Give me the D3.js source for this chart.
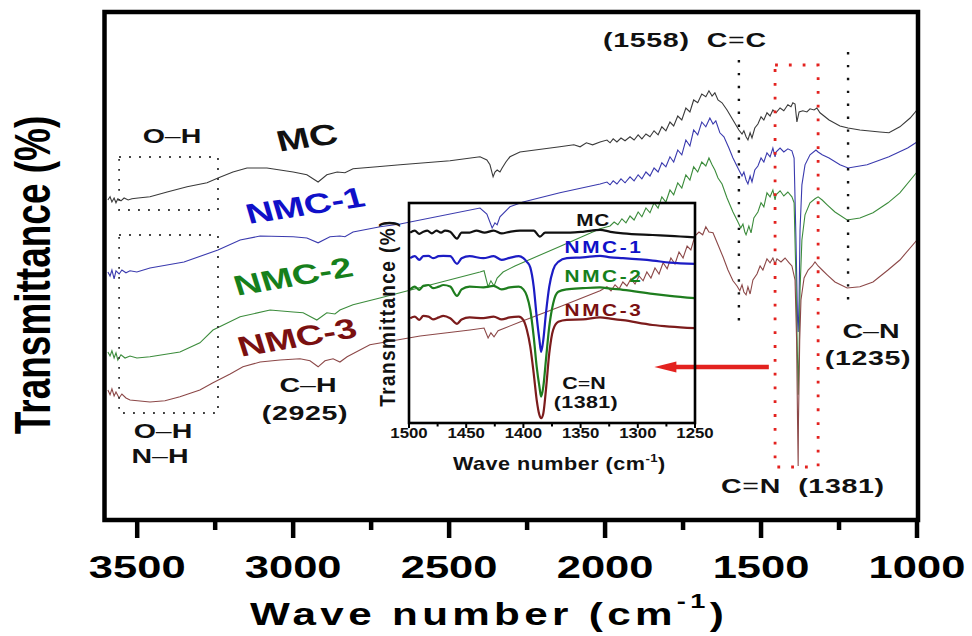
<!DOCTYPE html>
<html>
<head>
<meta charset="utf-8">
<script src="https://cdn.jsdelivr.net/npm/d3@7/dist/d3.min.js"></script>
<style>
    body { margin: 0; background: #fff; }
    text { font-family: "Liberation Sans", Arial, sans-serif; font-weight: bold; white-space: pre; }
</style>
</head>
<body>
<svg id="chart" width="972" height="636"></svg>
<script>
// FTIR spectra: [wave number (cm-1), transmittance (a.u., offset)]
var mcSpectrum = [
    [3594,80],[3587,80.8],[3581,79.5],[3574,80.5],[3568,79.3],[3562,80.3],[3552,79.8],[3542,80.5],[3529,80],[3517,80.3],[3497,80.5],
    [3459,80.8],[3404,82],[3340,83.3],[3276,84.3],[3241,85.5],[3193,87],[3148,88],[3084,88],[3000,87],[2956,86.3],[2920,84.5],
    [2892,86.3],[2859,87],[2834,86.8],[2808,87.8],[2731,88.3],[2657,88.8],[2497,89.8],[2401,90.8],[2379,90],[2369,88.8],[2359,85.8],
    [2353,87],[2346,87.5],[2337,87],[2330,88],[2318,89.5],[2305,90.8],[2273,92],[2145,93.3],[2100,93.8],[2080,93.3],[2060,94.3],
    [2040,93.8],[2016,94.5],[1994,95],[1984,94.3],[1974,95.3],[1962,94.5],[1949,95.5],[1936,94.8],[1920,95.8],[1907,95],[1894,96.3],
    [1882,95.3],[1869,96.5],[1856,95.8],[1843,97.3],[1830,96.3],[1818,98.3],[1805,97.3],[1792,99.5],[1780,98.5],[1767,101],[1754,100],
    [1741,103],[1728,102],[1716,105],[1703,104.3],[1690,106.5],[1677,105.8],[1667,107.3],[1657,106],[1648,106.8],[1638,105],[1625,104.3],
    [1609,102.5],[1590,100],[1571,97.5],[1561,96.5],[1555,97.3],[1548,95.8],[1542,95],[1535,96.8],[1529,95.5],[1520,98],[1510,99],
    [1500,100.8],[1491,100],[1481,101.8],[1471,101],[1462,102.5],[1452,101.8],[1439,103],[1427,102.3],[1414,103.8],[1404,103.3],
    [1398,104.3],[1391,104],[1385,99.5],[1378,102],[1366,102.3],[1353,102],[1343,102.8],[1330,102.5],[1321,103],[1311,101.8],
    [1282,100],[1247,98.5],[1221,98],[1183,97.5],[1119,97],[1090,96.8],[1055,98.3],[1022,100.5],[1000,102.5]
];
var nmc1Spectrum = [
    [3594,62],[3587,61],[3581,62.5],[3574,60.3],[3568,62.3],[3558,61.5],[3549,62.5],[3536,61.8],[3523,62.3],[3501,62],[3459,63],
    [3350,64.5],[3241,67.5],[3170,70],[3106,71],[3000,70.8],[2956,70.5],[2920,69.3],[2882,70.8],[2850,71],[2834,70.8],[2808,72],
    [2721,73.3],[2657,74],[2401,78],[2379,76.5],[2362,73],[2353,74.3],[2346,73.8],[2337,75.8],[2305,78.3],[2263,79.5],[2145,81.8],
    [2016,84],[1994,84.5],[1984,83.8],[1974,84.8],[1962,84],[1949,85.3],[1936,84.3],[1920,85.8],[1907,84.8],[1894,86.3],[1882,85.3],
    [1869,87],[1856,86],[1843,88],[1830,87],[1818,89.3],[1805,88.3],[1792,90.8],[1780,89.5],[1767,92.5],[1754,91.3],[1741,95],
    [1728,93.5],[1716,97.5],[1703,96.3],[1690,99.5],[1677,98.3],[1664,100.5],[1654,99],[1645,99.8],[1632,96.8],[1619,95.8],[1603,93],
    [1590,90.5],[1571,87.5],[1561,86],[1555,87],[1548,85],[1542,84],[1535,86],[1529,84.5],[1520,87.5],[1510,88.5],[1500,90.5],
    [1491,89.5],[1481,91.8],[1471,90.8],[1462,93],[1455,90.8],[1452,92],[1439,93],[1427,92],[1414,92.8],[1401,92.3],[1394,90.5],
    [1388,70],[1383,50],[1381,47],[1378,55],[1375,72.5],[1369,83.8],[1359,88.8],[1343,91.3],[1324,92.5],[1317,92],[1304,91.3],
    [1282,90.5],[1247,88.8],[1221,88],[1160,88.8],[1090,90.8],[1030,93],[1000,94.5]
];
var nmc2Spectrum = [
    [3594,42],[3587,41],[3581,42.3],[3574,40.5],[3568,41.8],[3562,40],[3552,41.3],[3539,40.5],[3523,41],[3501,40.5],[3459,40.8],
    [3363,42],[3299,44.3],[3257,47.5],[3170,50.8],[3074,52.5],[3000,52],[2968,51.8],[2924,50],[2892,51.8],[2866,51.5],[2850,52.5],
    [2808,53.8],[2722,55.5],[2401,62],[2388,62.3],[2375,58.3],[2366,59.8],[2356,58.5],[2346,60.5],[2327,62],[2289,63.5],[2145,68.4],
    [2016,72.8],[1984,73.5],[1971,74.5],[1959,73.8],[1946,75.3],[1933,74.3],[1920,76],[1907,75],[1894,77],[1882,75.8],[1869,78],
    [1856,76.8],[1843,79.3],[1830,78],[1818,80.8],[1805,79.5],[1792,82.5],[1780,81.3],[1767,84.3],[1754,83],[1741,86.3],[1728,85],
    [1716,88.3],[1703,87],[1690,89.5],[1677,88.5],[1667,90.5],[1657,88.8],[1648,87.5],[1638,85.5],[1625,84],[1609,80.5],[1590,77],
    [1574,74.5],[1565,73],[1558,74],[1552,72],[1548,71.3],[1539,73.5],[1532,71.8],[1523,75.5],[1510,77],[1500,79.3],[1491,78.3],
    [1481,81.8],[1471,80.8],[1462,82.5],[1455,80],[1452,81.3],[1439,82.3],[1427,81],[1414,82],[1401,80.8],[1394,79.3],[1388,60],
    [1383,40],[1381,31.3],[1378,42.5],[1375,57.5],[1369,70],[1359,76.3],[1343,79.3],[1327,80.3],[1317,80.8],[1304,80],[1288,78.8],
    [1263,77],[1224,75],[1183,75.5],[1141,76.8],[1093,79.3],[1055,81.8],[1000,87]
];
var nmc3Spectrum = [
    [3594,32.5],[3587,31.3],[3581,32.8],[3574,31],[3568,32],[3558,30.5],[3549,31.5],[3536,30.5],[3523,30],[3459,29.5],[3411,29.8],
    [3363,30.8],[3299,32.5],[3257,34.3],[3202,36.5],[3161,38.3],[3106,39.5],[3042,40],[2978,40.3],[2946,39.8],[2920,38.3],[2898,39.8],
    [2872,40.3],[2850,39.5],[2827,40.8],[2754,43.8],[2593,46],[2433,47.5],[2388,48],[2375,45.5],[2366,46.8],[2356,45.8],[2343,47.3],
    [2321,48],[2273,49.5],[2145,53.3],[2016,57.3],[1994,58.3],[1981,57.3],[1968,58.8],[1955,57.8],[1943,59.5],[1930,58.5],[1917,60.3],
    [1904,59],[1891,61],[1878,59.8],[1866,62],[1853,60.5],[1840,63],[1827,61.5],[1814,64.3],[1801,62.8],[1789,65.5],[1776,64],
    [1763,67],[1750,65.5],[1737,68.5],[1725,67.5],[1712,71],[1699,72],[1687,71.3],[1677,73.3],[1667,72],[1654,71.8],[1638,68.8],
    [1622,65.8],[1606,62.5],[1590,59.8],[1577,58.5],[1568,57.3],[1561,58.8],[1555,57],[1548,56.3],[1542,58.3],[1535,56.5],[1526,60],
    [1513,61.5],[1503,63.5],[1494,62.5],[1481,65.3],[1471,64.3],[1462,65.5],[1455,64],[1449,65.3],[1436,64.5],[1423,65.5],
    [1410,64.3],[1401,63.5],[1391,60],[1386,45],[1383,25],[1381,13.5],[1380,25],[1376,45],[1372,55],[1362,60.5],[1349,62.5],
    [1336,63.5],[1327,64.5],[1317,63.5],[1304,62.5],[1288,61.3],[1263,59.5],[1224,58],[1183,58.3],[1141,59.5],[1093,62.5],
    [1055,65],[1000,70]
];

// inset, 1500-1250 cm-1
var insetMC = [
    [1499,47.6],[1495,48.1],[1491,47.3],[1487.5,47.8],[1484,48.1],[1480,47.4],[1476,48.1],[1472,47.6],[1468.5,48.1],[1464,47.8],
    [1458,46.1],[1454,47.6],[1447,47.6],[1441,48.1],[1434,47.6],[1426,48.1],[1419,47.4],[1412,47.8],[1403,48.1],[1391,48.1],
    [1385.5,46.6],[1381,47.6],[1371,47.6],[1359,47.6],[1348,47.8],[1333,48.3],[1324,47.8],[1313,47.4],[1287,47],[1272,46.8],[1250,46.4]
];
var insetNMC1 = [
    [1499,41.2],[1495,41.7],[1491,40.8],[1487.5,41.7],[1483,41.8],[1479,41.2],[1474,41.7],[1470,41.8],[1464,41.7],[1458,39.8],
    [1454,41.2],[1447,41.7],[1435,41.2],[1426,41.7],[1419,40.8],[1412,41.3],[1404,41.7],[1400,41.2],[1397,40.3],[1394,38.9],
    [1391,34.1],[1388.4,26.6],[1386,20.8],[1384.5,17.8],[1382.6,20.8],[1380.3,27.4],[1377.4,34.1],[1374,38.3],[1369.5,40.3],
    [1362,41.2],[1348,41.4],[1333,41.8],[1324,41.4],[1313,41.2],[1287,40.6],[1272,40.1],[1250,39.8]
];
var insetNMC2 = [
    [1499,33.4],[1495,34.1],[1491,33.3],[1487.5,34.3],[1483,34.5],[1479,33.7],[1474,34.1],[1470,34.5],[1464,34.1],[1458,31.8],
    [1454,33.4],[1447,34.1],[1435,33.9],[1426,34.3],[1419,33.4],[1412,33.9],[1404,34.1],[1400,33.4],[1397,31.8],[1394,28.3],
    [1391,21.6],[1388.4,14.1],[1386,9.1],[1384.5,6.6],[1382.6,9.1],[1380.3,15.8],[1377.4,24.1],[1374,29.9],[1369.5,32.8],
    [1362,33.4],[1348,33.7],[1333,33.9],[1324,33.6],[1313,33.3],[1287,32.3],[1272,31.8],[1250,31.2]
];
var insetNMC3 = [
    [1499,26.2],[1495,26.6],[1491,25.8],[1487.5,26.8],[1483,26.6],[1479,25.9],[1474,26.4],[1470,26.8],[1464,26.2],[1458,24.8],
    [1454,25.9],[1447,26.4],[1435,26.2],[1426,26.6],[1419,25.9],[1412,26.4],[1404,26.6],[1400,25.7],[1397,23.3],[1394,19.1],
    [1391,12.4],[1388.4,5.8],[1386,2],[1384.5,1.2],[1382.6,2.4],[1380.3,8.3],[1377.4,17.4],[1374,23.3],[1369.5,25.3],
    [1362,25.8],[1348,25.9],[1333,26.4],[1324,26.1],[1313,25.7],[1287,24.5],[1272,24.1],[1250,23.7]
];

var seriesNames = ["MC", "NMC-1", "NMC-2", "NMC-3"];
var mainTicks = [3500, 3000, 2500, 2000, 1500, 1000];
var mainMinorTicks = [3250, 2750, 2250, 1750, 1250];
var insetTicks = [1500, 1450, 1400, 1350, 1300, 1250];
var insetMinorTicks = [1475, 1425, 1375, 1325, 1275];

// annotation guides (wave number, transmittance)
var guideLines = [[1571, 115, 48.75], [1221, 117, 53.25]];
var cnBox = [1455, 1317, 113.75, 13.25];
var ohBoxes = [[3558, 3241, 90.75, 77.5], [3558, 3241, 71.25, 26.75]];
var arrowSpan = [1475, 1842, 38.25];

var svg = d3.select("#chart");

var lineColors = ["#3a3a3a", "#3a3aae", "#3c8c3c", "#8c4848"],
    insetColors = ["#111111", "#1c1cc4", "#1e7d1e", "#7c1c1c"],
    labelColors = ["#111111", "#1010c8", "#16801b", "#7a1010"];

var x = d3.scaleLinear().domain([3600, 1000]).range([106, 917]);
var y = d3.scaleLinear().domain([0, 127]).range([520, 12]);

var xi = d3.scaleLinear().domain([1500, 1250]).range([409, 695]);
var yi = d3.scaleLinear().domain([0, 55]).range([423, 203]);

svg.append("rect").attr("width", 972).attr("height", 636).style("fill", "#fff");

// helper for the (horizontally stretched) bold labels
function addText(px, py, parts, o) {
    var t = svg.append("text")
        .attr("xml:space", "preserve")
        .attr("transform", "translate(" + px + "," + py + ") scale(" + (o.sx || 1) + ",1)" + (o.rot ? " rotate(" + o.rot + ")" : ""))
        .attr("text-anchor", o.anchor || "middle")
        .style("font-size", o.size + "px")
        .style("letter-spacing", (o.ls || 0) + "px")
        .style("fill", o.color || "#111");
    if (o.dy) t.attr("dy", o.dy);
    parts.forEach(function(p) {
        var s = t.append("tspan").text(p[0]);
        if (p[1]) s.style("font-weight", p[1]);
        if (p[2]) s.style("font-size", p[2] + "px");
        if (p[3]) s.attr("dy", p[3]);
    });
    return t;
}

// main spectra
var mainLine = d3.line()
    .x(function(d) { return x(d[0]); })
    .y(function(d) { return y(d[1]); });

[mcSpectrum, nmc1Spectrum, nmc2Spectrum, nmc3Spectrum].forEach(function(s, i) {
    svg.append("path")
        .datum(s)
        .attr("d", mainLine)
        .style("fill", "none")
        .style("stroke", lineColors[i])
        .style("stroke-width", 1.1);
});

// dotted guides
guideLines.forEach(function(g) {
    svg.append("line")
        .attr("x1", x(g[0])).attr("x2", x(g[0]))
        .attr("y1", y(g[1])).attr("y2", y(g[2]))
        .style("stroke", "#111").style("stroke-width", 2.4)
        .style("stroke-dasharray", "2.4,10.5");
});

ohBoxes.forEach(function(b) {
    svg.append("rect")
        .attr("x", x(b[0])).attr("y", y(b[2]))
        .attr("width", x(b[1]) - x(b[0])).attr("height", y(b[3]) - y(b[2]))
        .style("fill", "none").style("stroke", "#333").style("stroke-width", 1.8)
        .style("stroke-dasharray", "1.8,8.2");
});

svg.append("rect")
    .attr("x", x(cnBox[0])).attr("y", y(cnBox[2]))
    .attr("width", x(cnBox[1]) - x(cnBox[0])).attr("height", y(cnBox[3]) - y(cnBox[2]))
    .style("fill", "none").style("stroke", "#e3221f").style("stroke-width", 2.8)
    .style("stroke-dasharray", "2.8,11");

// red arrow pointing at the inset
var ax0 = x(arrowSpan[0]), ax1 = x(arrowSpan[1]), ay = y(arrowSpan[2]);
svg.append("line")
    .attr("x1", ax0).attr("x2", ax1 + 18).attr("y1", ay).attr("y2", ay)
    .style("stroke", "#e3221f").style("stroke-width", 4.5);
svg.append("path")
    .attr("d", "M" + ax1 + "," + ay + "L" + (ax1 + 22) + "," + (ay - 5.5) + "L" + (ax1 + 22) + "," + (ay + 5.5) + "Z")
    .style("fill", "#e3221f");

// main frame + axis
svg.append("rect")
    .attr("x", 104.5).attr("y", 12).attr("width", 813.5).attr("height", 508)
    .style("fill", "none").style("stroke", "#000").style("stroke-width", 4.5);

svg.selectAll(".tick-major")
    .data(mainTicks)
    .enter().append("line")
    .attr("class", "tick-major")
    .attr("x1", function(d) { return x(d); }).attr("x2", function(d) { return x(d); })
    .attr("y1", 520).attr("y2", 538)
    .style("stroke", "#000").style("stroke-width", 4.5);

svg.selectAll(".tick-minor")
    .data(mainMinorTicks)
    .enter().append("line")
    .attr("class", "tick-minor")
    .attr("x1", function(d) { return x(d); }).attr("x2", function(d) { return x(d); })
    .attr("y1", 520).attr("y2", 530)
    .style("stroke", "#000").style("stroke-width", 4.5);

mainTicks.forEach(function(d) {
    addText(x(d), 578, [[d]], {size: 32, sx: 1.36, color: "#000"});
});

addText(250, 625, [["Wave number (cm"], ["-1", null, 20, -17], [")", null, 31, 17]],
    {size: 31, sx: 1.36, ls: 3.2, anchor: "start", color: "#000"});
addText(50, 275, [["Transmittance (%)"]], {size: 37, sx: 1.36, rot: -90, color: "#000"});

// peak annotations
addText(603, 47, [["(1558)  C"], ["=", "normal"], ["C"]], {size: 21, sx: 1.36, ls: 0.5, anchor: "start"});
addText(172, 143, [["O"], ["\u2013", "normal"], ["H"]], {size: 21, sx: 1.36});
addText(308, 392, [["C"], ["\u2013", "normal"], ["H"]], {size: 21, sx: 1.36});
addText(305, 420, [["(2925)"]], {size: 21, sx: 1.36, ls: 0.5});
addText(163, 438, [["O"], ["\u2013", "normal"], ["H"]], {size: 21, sx: 1.36});
addText(160, 463, [["N"], ["\u2013", "normal"], ["H"]], {size: 21, sx: 1.36});
addText(871, 338, [["C"], ["\u2013", "normal"], ["N"]], {size: 21, sx: 1.36});
addText(868, 365, [["(1235)"]], {size: 21, sx: 1.36, ls: 0.5});
addText(721, 493, [["C"], ["=", "normal"], ["N  (1381)"]], {size: 21, sx: 1.36, ls: 0.5, anchor: "start"});

// series names on the main plot
var namePos = [[307, 137, -11, 29], [305, 205, -12, 28], [293, 276, -13, 28], [297, 337, -13, 28]];
seriesNames.forEach(function(n, i) {
    addText(namePos[i][0], namePos[i][1], [[n]],
        {size: namePos[i][3], sx: 1.36, rot: namePos[i][2], dy: "0.36em", color: labelColors[i]});
});

// ---- inset ----
var insetLine = d3.line()
    .curve(d3.curveMonotoneX)
    .x(function(d) { return xi(d[0]); })
    .y(function(d) { return yi(d[1]); });

[insetMC, insetNMC1, insetNMC2, insetNMC3].forEach(function(s, i) {
    svg.append("path")
        .datum(s)
        .attr("d", insetLine)
        .style("fill", "none")
        .style("stroke", insetColors[i])
        .style("stroke-width", 2.2)
        .style("stroke-linejoin", "round");
});

svg.append("rect")
    .attr("x", 409).attr("y", 203).attr("width", 286).attr("height", 220)
    .style("fill", "none").style("stroke", "#000").style("stroke-width", 2.6);

insetTicks.forEach(function(d) {
    svg.append("line")
        .attr("x1", xi(d)).attr("x2", xi(d)).attr("y1", 423).attr("y2", 428)
        .style("stroke", "#000").style("stroke-width", 2);
    addText(xi(d), 438, [[d]], {size: 15, sx: 1.12, color: "#111"});
});
insetMinorTicks.forEach(function(d) {
    svg.append("line")
        .attr("x1", xi(d)).attr("x2", xi(d)).attr("y1", 423).attr("y2", 426.5)
        .style("stroke", "#000").style("stroke-width", 2);
});

addText(453, 470, [["Wave number (cm"], ["-1", null, 11, -8], [")", null, 18, 8]],
    {size: 18, sx: 1.2, ls: 0.4, anchor: "start"});
addText(395, 313, [["Transmittance (%)"]], {size: 19, sx: 1.2, ls: 1.4, rot: -90});

var insetNamePos = [[593, 226], [604, 253], [604, 282], [604, 316]];
seriesNames.forEach(function(n, i) {
    addText(insetNamePos[i][0], insetNamePos[i][1], [[n]],
        {size: 16, sx: 1.3, ls: i === 0 ? 0.5 : 2, color: labelColors[i]});
});
addText(584, 389, [["C"], ["=", "normal"], ["N"]], {size: 16.5, sx: 1.3});
addText(586, 408, [["(1381)"]], {size: 16.5, sx: 1.3, ls: 0.3});
</script>
</body>
</html>
